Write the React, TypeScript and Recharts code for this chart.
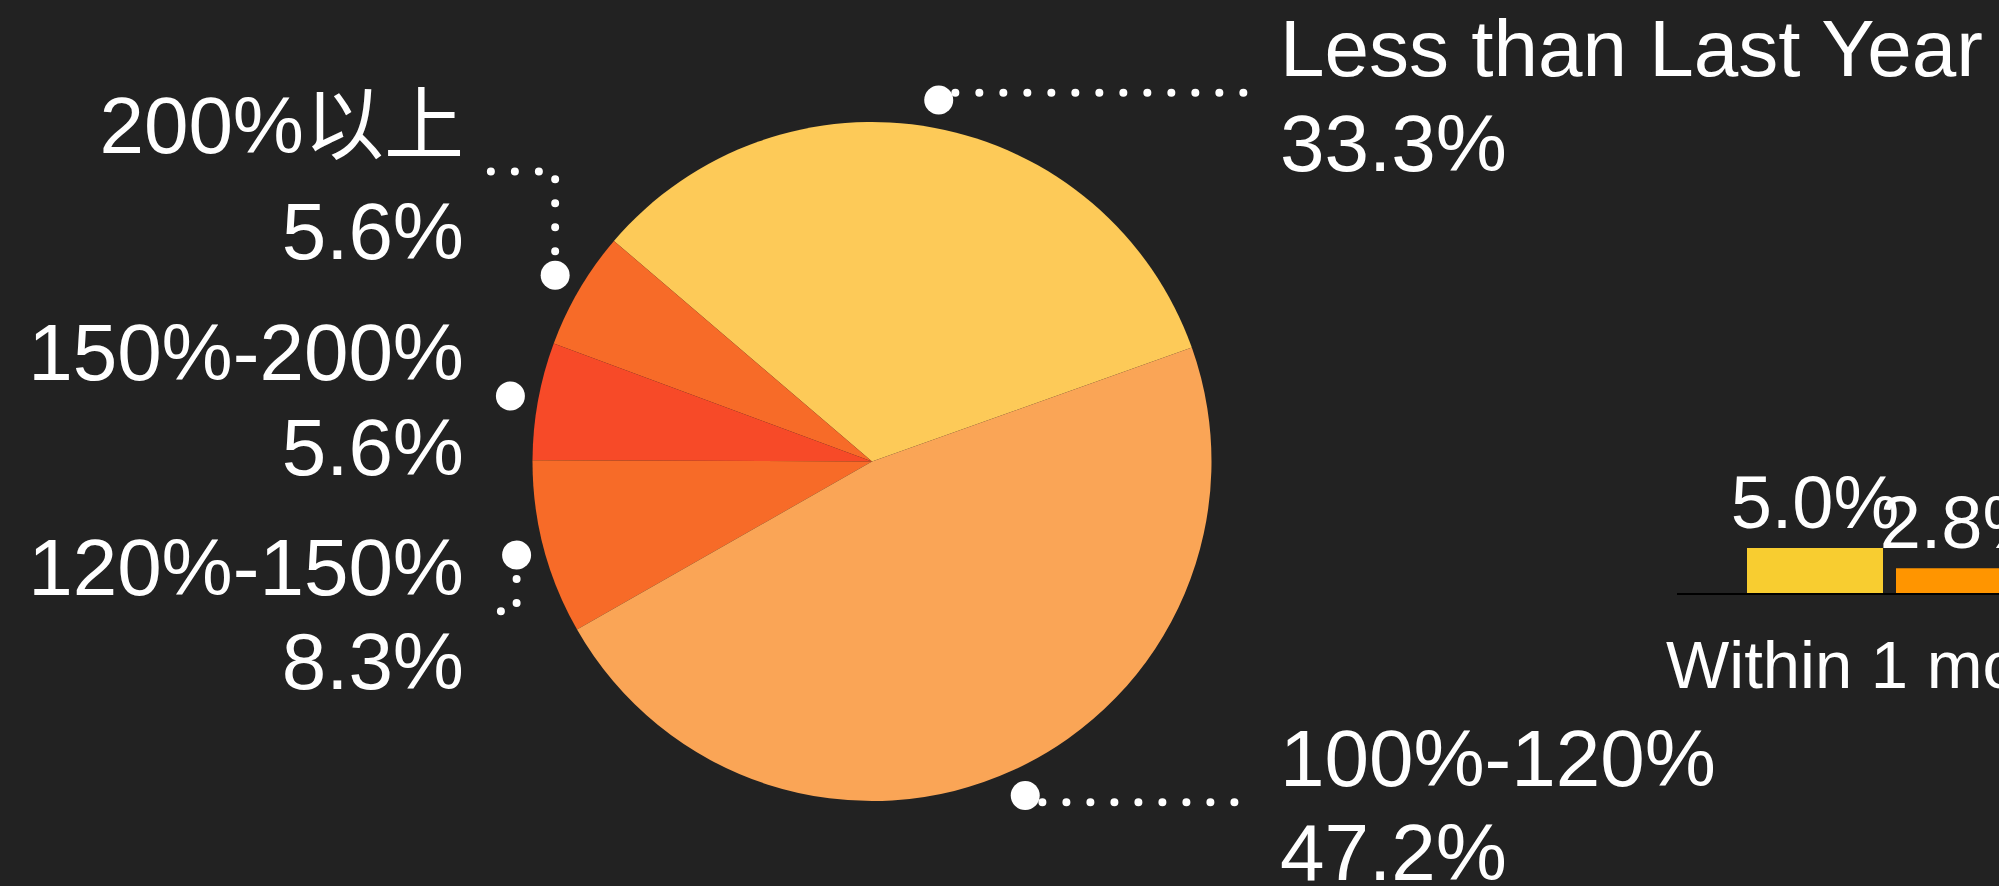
import { PieChart, Pie, Cell, BarChart, Bar, XAxis, YAxis, LabelList } from "recharts";

// pie: share of stores by ratio to last year
const categories = ["Less than Last Year", "200%以上", "150%-200%", "120%-150%", "100%-120%"];
const shares = [33.3, 5.6, 5.6, 8.3, 47.2];
const sliceColors = ["#FDCA58", "#F76B28", "#F74A28", "#F76B28", "#FAA556"];

// bar chart on the right (mostly cut off)
const barCategories = ["Within 1 month"];
const barSeriesA = [5.0];
const barSeriesB = [2.8];
const barColors = ["#F8CD30", "#FF9500"];

const pieData = categories.map((name, i) => ({ name, value: shares[i] }));
const barData = barCategories.map((name, i) => ({ name, a: barSeriesA[i], b: barSeriesB[i] }));

const FONT = "'Liberation Sans', Arial, 'Noto Sans CJK SC', sans-serif";
const START_ANGLE = 19.6;
const LH = 94.7;
const LH_CJK = 105.6;
const LABEL_GAP = 25;
const LABEL_BOTTOM = 706;

const hasCJK = (s: string) => /[\u3040-\u9fff]/.test(s);

// simple label collision handling per side (push down, then lift the stack)
function labelYs(cx: number, cy: number, r: number) {
  const total = shares.reduce((s, v) => s + v, 0);
  let acc = 0;
  const items = shares.map((v, i) => {
    const mid = START_ANGLE + ((acc + v / 2) / total) * 360;
    acc += v;
    const rad = (mid * Math.PI) / 180;
    return {
      i,
      side: Math.cos(rad) >= 0 ? 1 : -1,
      y: cy - Math.sin(rad) * (r + 35.5),
      lh: hasCJK(categories[i]) ? LH_CJK : LH,
    };
  });
  const out: number[] = [];
  [1, -1].forEach((side) => {
    const list = items.filter((d) => d.side === side).sort((a, b) => a.y - b.y);
    let moved = false;
    for (let k = 1; k < list.length; k++) {
      const min = list[k - 1].y + list[k - 1].lh + list[k].lh + LABEL_GAP;
      if (list[k].y < min) {
        list[k].y = min;
        moved = true;
      }
    }
    if (moved) {
      const last = list[list.length - 1];
      const over = last.y + last.lh - LABEL_BOTTOM;
      if (over > 0) list.forEach((d) => (d.y -= over));
    }
    list.forEach((d) => (out[d.i] = d.y));
  });
  return out;
}

const renderPieLabel = (p: any) => {
  const { cx, cy, midAngle, outerRadius, index, name, value } = p;
  const ys = labelYs(cx, cy, outerRadius);
  const rad = (midAngle * Math.PI) / 180;
  const side = Math.cos(rad) >= 0 ? 1 : -1;
  const dotX = cx + Math.cos(rad) * (outerRadius + 28);
  const dotY = cy - Math.sin(rad) * (outerRadius + 28);
  const yl = ys[index];
  const tx = cx + side * (outerRadius + 68.5);
  const endX = tx - side * 26;
  const lh = hasCJK(name) ? LH_CJK : LH;
  const anchor = side > 0 ? "start" : "end";
  return (
    <g key={`lbl-${index}`}>
      <path
        d={`M${dotX},${dotY}V${yl}H${endX}`}
        fill="none"
        stroke="#fff"
        strokeWidth={8}
        strokeLinecap="round"
        strokeDasharray="0 24"
      />
      <circle cx={dotX} cy={dotY} r={14.5} fill="#fff" />
      <text x={tx} y={yl - lh + 0.825 * lh} textAnchor={anchor} fill="#fff" fontSize={80}>
        {name}
      </text>
      <text x={tx} y={yl + 0.825 * lh} textAnchor={anchor} fill="#fff" fontSize={80}>
        {`${Number(value).toFixed(1)}%`}
      </text>
    </g>
  );
};

const CategoryTick = (p: any) => {
  const { x, y, payload } = p;
  return (
    <text x={x} y={y + 94} textAnchor="middle" fill="#fff" fontSize={67}>
      {payload.value}
    </text>
  );
};

const pct = (v: any) => `${Number(v).toFixed(1)}%`;

export default function App() {
  return (
    <div
      style={{
        position: "fixed",
        left: 0,
        top: 0,
        width: 1999,
        height: 886,
        overflow: "hidden",
        background: "#222222",
        fontFamily: FONT,
      }}
    >
      <div style={{ position: "absolute", left: 0, top: 0 }}>
        <PieChart width={1999} height={886} margin={{ top: 0, right: 0, bottom: 0, left: 0 }}>
          <Pie
            data={pieData}
            dataKey="value"
            nameKey="name"
            cx={872}
            cy={461.5}
            outerRadius={339.5}
            startAngle={START_ANGLE}
            endAngle={START_ANGLE + 360}
            stroke="none"
            label={renderPieLabel}
            labelLine={false}
            isAnimationActive={false}
          >
            {pieData.map((d, i) => (
              <Cell key={d.name} fill={sliceColors[i]} />
            ))}
          </Pie>
        </PieChart>
      </div>

      <div style={{ position: "absolute", left: 1577, top: 400 }}>
        <BarChart
          width={625}
          height={294}
          data={barData}
          margin={{ top: 102, right: 100, bottom: 0, left: 100 }}
          barSize={136}
          barGap={13}
          barCategoryGap={0}
        >
          <XAxis
            dataKey="name"
            height={100}
            interval={0}
            tickLine={false}
            tickSize={0}
            tickMargin={0}
            axisLine={{ stroke: "#000", strokeWidth: 2 }}
            tick={<CategoryTick />}
          />
          <YAxis hide domain={[0, 10]} />
          <Bar dataKey="a" fill={barColors[0]} isAnimationActive={false}>
            <LabelList dataKey="a" position="top" offset={20} formatter={pct} fill="#fff" fontSize={74} />
          </Bar>
          <Bar dataKey="b" fill={barColors[1]} isAnimationActive={false}>
            <LabelList dataKey="b" position="top" offset={20} formatter={pct} fill="#fff" fontSize={74} />
          </Bar>
        </BarChart>
      </div>
    </div>
  );
}
